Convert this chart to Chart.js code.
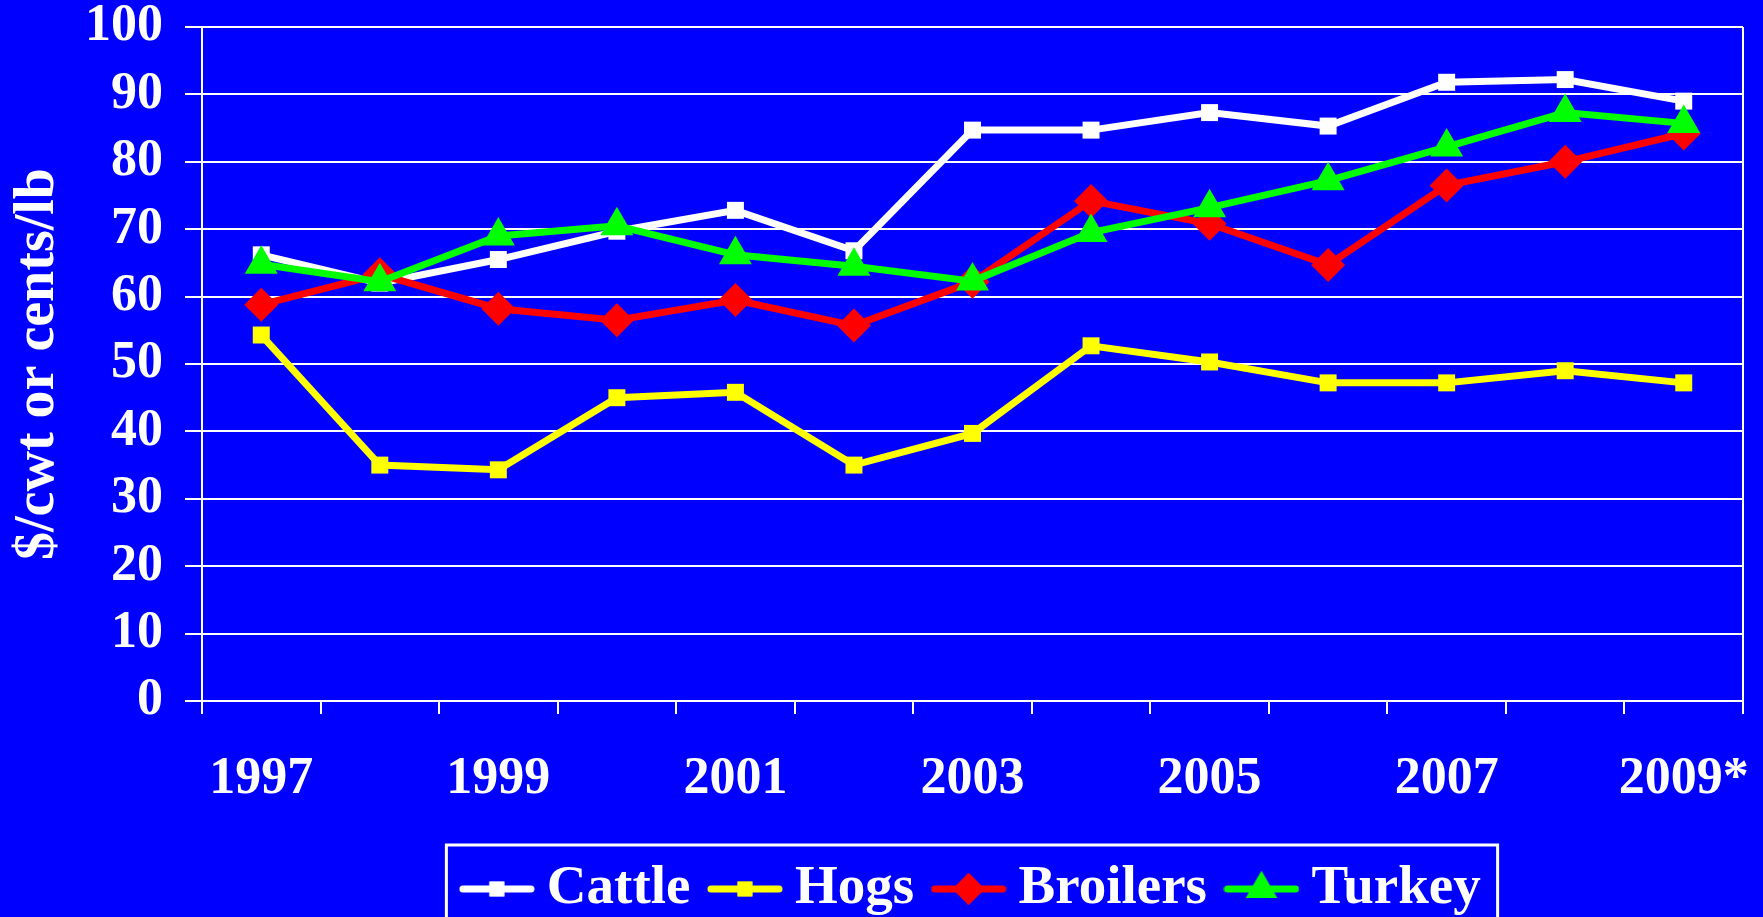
<!DOCTYPE html>
<html>
<head>
<meta charset="utf-8">
<script src="https://cdn.jsdelivr.net/npm/chart.js@4/dist/chart.umd.min.js"></script>
<style>
  html, body { margin: 0; padding: 0; background: #0000ff; overflow: hidden; }
  #wrap { width: 1763px; height: 917px; position: relative; }
</style>
</head>
<body>
<div id="wrap"><canvas id="myChart"></canvas></div>
<script>
// values ($/cwt or cents/lb)
const years = ['1997', '1998', '1999', '2000', '2001', '2002', '2003', '2004', '2005', '2006', '2007', '2008', '2009*'];
const cattle = [66.2, 62.0, 65.5, 69.7, 72.8, 66.8, 84.7, 84.7, 87.3, 85.3, 91.8, 92.2, 89.0];
const hogs = [54.3, 35.0, 34.3, 45.0, 45.8, 35.0, 39.7, 52.7, 50.3, 47.2, 47.2, 49.0, 47.2];
const broilers = [58.8, 63.3, 58.2, 56.5, 59.5, 55.7, 62.2, 74.2, 70.8, 64.7, 76.5, 80.0, 84.2];
const turkey = [64.8, 62.2, 69.0, 70.5, 66.2, 64.5, 62.3, 69.5, 73.2, 77.2, 82.2, 87.3, 85.7];

const FONT = "'Liberation Serif', 'Times New Roman', serif";

// legend icon: a short line with the marker in the middle
function makeIcon(color, style, radius) {
    const c = document.createElement('canvas');
    c.width = 76; c.height = 44;
    const g = c.getContext('2d');
    g.strokeStyle = color;
    g.lineWidth = 7;
    g.lineCap = 'round';
    g.beginPath(); g.moveTo(4, 22); g.lineTo(72, 22); g.stroke();
    g.fillStyle = color;
    Chart.helpers.drawPoint(g, {pointStyle: style, radius: radius, rotation: 0, borderWidth: 0}, 38, 22);
    g.fill();
    return c;
}

const legendBorder = {
    id: 'legendBorder',
    afterLayout(chart) {
        // the legend sits a bit right of centre in the original
        chart.legend.left += 106;
        chart.legend.right += 106;
    },
    afterDraw(chart) {
        const boxes = chart.legend.legendHitBoxes;
        if (!boxes || !boxes.length) return;
        const ctx = chart.ctx;
        const left = boxes[0].left - 28;
        const last = boxes[boxes.length - 1];
        const right = last.left + last.width + 17;
        const top = chart.chartArea.bottom + 144;
        ctx.save();
        ctx.strokeStyle = '#ffffff';
        ctx.lineWidth = 3;
        ctx.beginPath();
        ctx.moveTo(left, chart.height + 5);
        ctx.lineTo(left, top);
        ctx.lineTo(right, top);
        ctx.lineTo(right, chart.height + 5);
        ctx.stroke();
        ctx.restore();
    }
};

const icons = [
    makeIcon('#ffffff', 'rect', 10.5),
    makeIcon('#ffff00', 'rect', 10.5),
    makeIcon('#ff0000', 'rectRot', 16),
    makeIcon('#00ff00', 'triangle', 18)
];

const ctx = document.getElementById('myChart').getContext('2d');
const chart = new Chart(ctx, {
    type: 'line',
    data: {
        labels: years,
        datasets: [
            {
                label: 'Cattle', data: cattle, order: 4,
                borderColor: '#ffffff', backgroundColor: '#ffffff',
                pointStyle: 'rect', pointRadius: 12
            }, {
                label: 'Hogs', data: hogs, order: 3,
                borderColor: '#ffff00', backgroundColor: '#ffff00',
                pointStyle: 'rect', pointRadius: 12
            }, {
                label: 'Broilers', data: broilers, order: 2,
                borderColor: '#ff0000', backgroundColor: '#ff0000',
                pointStyle: 'rectRot', pointRadius: 17
            }, {
                label: 'Turkey', data: turkey, order: 1,
                borderColor: '#00ff00', backgroundColor: '#00ff00',
                pointStyle: 'triangle', pointRadius: 19
            }
        ]
    },
    options: {
        responsive: true,
        maintainAspectRatio: false,
        animation: false,
        layout: { padding: { top: 27, right: 20, left: 0, bottom: -9.5 } },
        elements: {
            line: { borderWidth: 7, tension: 0 },
            point: { borderWidth: 0, hoverRadius: 17 }
        },
        scales: {
            x: {
                offset: true,
                grid: {
                    offset: true,
                    drawOnChartArea: true,
                    color: c => (c.tick ? 'rgba(0,0,0,0)' : '#ffffff'),
                    tickColor: '#ffffff',
                    lineWidth: 2,
                    tickLength: 13
                },
                border: { color: '#ffffff', width: 2 },
                ticks: {
                    color: '#ffffff',
                    autoSkip: false,
                    maxRotation: 0,
                    padding: 40,
                    font: { family: FONT, size: 52, weight: 'bold', lineHeight: 1 },
                    callback: function (v, i) { return i % 2 === 0 ? this.getLabelForValue(v) : ''; }
                },
                afterFit: s => { s.height = 128.5; s.paddingLeft = 0; s.paddingRight = 0; }
            },
            y: {
                min: 0,
                max: 100,
                grid: { color: '#ffffff', lineWidth: 2, tickLength: 17 },
                border: { color: '#ffffff', width: 2 },
                ticks: {
                    stepSize: 10,
                    color: '#ffffff',
                    padding: 22,
                    font: { family: FONT, size: 52, weight: 'bold', lineHeight: 1 }
                },
                title: {
                    display: true,
                    text: '$/cwt or cents/lb',
                    color: '#ffffff',
                    padding: { top: 5, bottom: 0 },
                    font: { family: FONT, size: 56, weight: 'bold', lineHeight: 1.2 }
                },
                afterFit: s => { s.width = 202; s.paddingTop = 0; s.paddingBottom = 0; }
            }
        },
        plugins: {
            tooltip: { enabled: false },
            legend: {
                position: 'bottom',
                labels: {
                    color: '#ffffff',
                    usePointStyle: true,
                    pointStyleWidth: 45,
                    padding: 32,
                    font: { family: FONT, size: 55, weight: 'bold' },
                    sort: (a, b) => a.datasetIndex - b.datasetIndex,
                    generateLabels: c => Chart.defaults.plugins.legend.labels.generateLabels(c)
                        .map(item => Object.assign(item, { pointStyle: icons[item.datasetIndex] }))
                }
            }
        }
    },
    plugins: [legendBorder]
});
</script>
</body>
</html>
